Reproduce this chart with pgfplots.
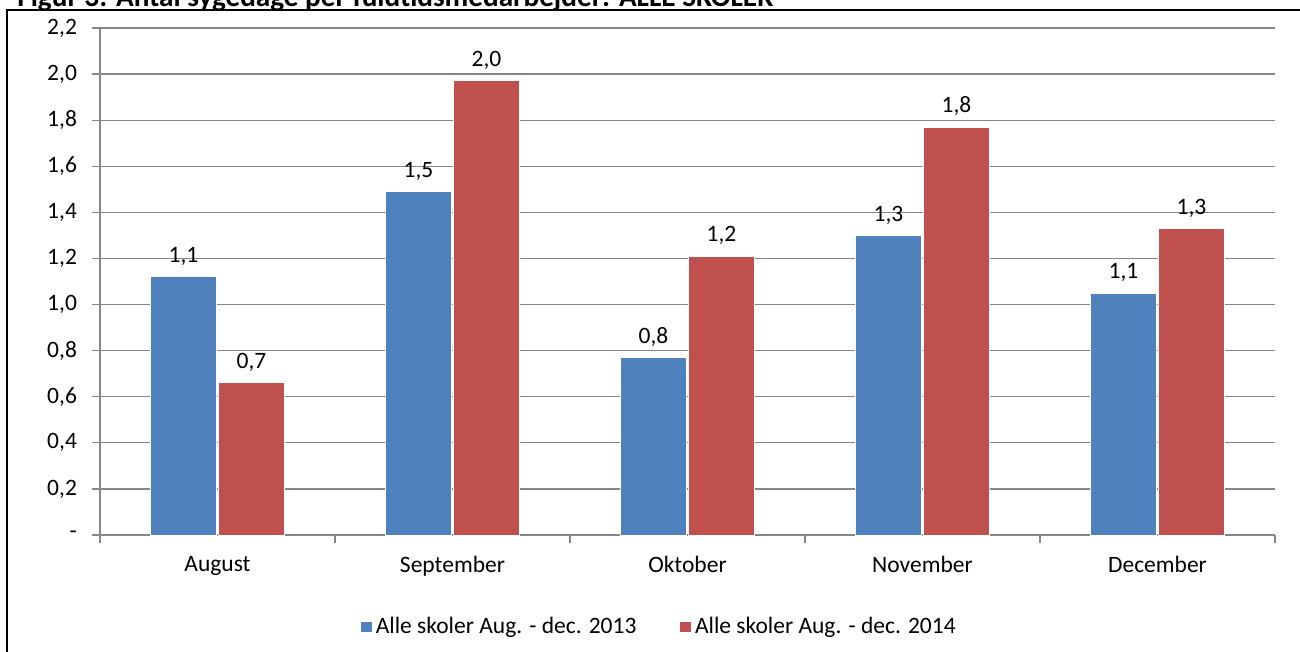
\documentclass[border=0pt]{standalone}
\usepackage{fontspec}
\setmainfont{Carlito}
\usepackage{pgfplots}
\pgfplotsset{compat=1.18}
\usepackage{pgfplotstable}
\definecolor{xblue}{HTML}{4F81BD}
\definecolor{xred}{HTML}{C0504D}
\definecolor{gridc}{HTML}{868686}
\pgfplotstableread{
x y lab
0 1.12 1,1
1 1.49 1,5
2 0.77 0,8
3 1.30 1,3
4 1.05 1,1
}\dataA
\pgfplotstableread{
x y lab
0 0.66 0,7
1 1.97 2,0
2 1.21 1,2
3 1.77 1,8
4 1.33 1,3
}\dataB
\newcommand{\lblfont}{\fontsize{11.75}{13.5}\selectfont}
\begin{document}
\begin{tikzpicture}[font=\lblfont]
\begin{axis}[
  scale only axis, width=587.5pt, height=253.5pt,
  ybar=1pt, bar width=33pt,
  xmin=-0.5, xmax=4.5, ymin=0, ymax=2.2,
  xtick={0,1,2,3,4},
  xticklabels={August,September,Oktober,November,December},
  major x tick style={draw=none},
  minor xtick={-0.5,0.5,1.5,2.5,3.5,4.5},
  minor tick length=4pt, major tick length=4pt,
  ytick={0,0.2,0.4,0.6,0.8,1.0,1.2,1.4,1.6,1.8,2.0,2.2},
  yticklabels={-,{0,2},{0,4},{0,6},{0,8},{1,0},{1,2},{1,4},{1,6},{1,8},{2,0},{2,2}},
  ymajorgrids, grid style={gridc, line width=0.6pt},
  axis x line*=bottom, axis y line*=left,
  axis line style={-, gridc, line width=0.8pt},
  tick align=outside, tick style={gridc, line width=0.6pt},
  yticklabel style={xshift=-4pt, font=\lblfont},
  xticklabel style={yshift=-3pt, font=\lblfont},
  nodes near coords, point meta=explicit symbolic,
  every node near coord/.append style={black, yshift=2pt, font=\lblfont},
  legend style={at={(0.477,-0.181)}, anchor=center, draw=none, fill=none,
    legend columns=2, font=\lblfont,
    /tikz/every even column/.append style={column sep=20pt}},
  clip=false,
]
\addplot[fill=xblue, draw=white, line width=0.5pt,
  legend image code/.code={\fill[xblue] (0pt,-2.3pt) rectangle (4.8pt,2.3pt);}]
  table[x=x, y=y, meta=lab] {\dataA};
\addlegendentry{Alle skoler Aug. - dec. 2013}
\addplot[fill=xred, draw=white, line width=0.5pt,
  legend image code/.code={\fill[xred] (0pt,-2.3pt) rectangle (4.8pt,2.3pt);}]
  table[x=x, y=y, meta=lab] {\dataB};
\addlegendentry{Alle skoler Aug. - dec. 2014}
\end{axis}
\draw[line width=1pt] (-46.5pt,-70pt) -- (-46.5pt,262.5pt) -- (620pt,262.5pt);
\begin{scope}
\clip (-50pt,-58.5pt) rectangle (600pt,267.5pt);
\node[anchor=base west, inner sep=0pt, font=\fontsize{14.6}{16}\selectfont\bfseries] at (-41.5pt,264pt)
  {Figur 3: Antal sygedage per fuldtidsmedarbejder: ALLE SKOLER};
\end{scope}
\pgfresetboundingbox
\path (-50pt,-58.5pt) rectangle (600pt,267.5pt);
\end{tikzpicture}
\end{document}
